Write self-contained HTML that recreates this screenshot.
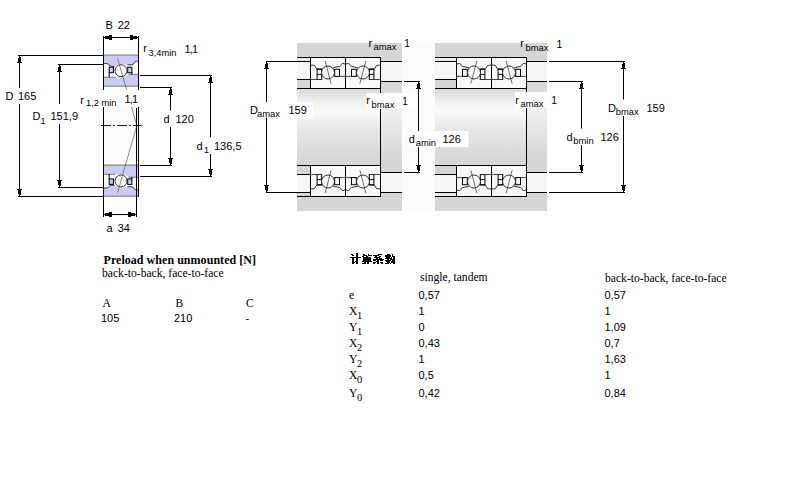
<!DOCTYPE html><html><head><meta charset="utf-8"><style>html,body{margin:0;padding:0;background:#fff;overflow:hidden}svg{display:block}</style></head><body>
<svg width="800" height="500" viewBox="0 0 800 500">
<defs>
<linearGradient id="shaft" x1="0" y1="0" x2="0" y2="1">
<stop offset="0" stop-color="#d9d9d9"/><stop offset="0.08" stop-color="#e4e4e4"/><stop offset="0.21" stop-color="#f5f5f5"/><stop offset="0.29" stop-color="#fbfbfb"/><stop offset="0.4" stop-color="#f1f1f1"/><stop offset="0.56" stop-color="#e6e6e6"/><stop offset="0.8" stop-color="#dcdcdc"/><stop offset="1" stop-color="#d6d6d6"/>
</linearGradient>
<linearGradient id="shaftR" x1="0" y1="0" x2="0" y2="1">
<stop offset="0" stop-color="#d7d7d7"/><stop offset="0.12" stop-color="#dcdcdc"/><stop offset="0.31" stop-color="#f0f0f0"/><stop offset="0.42" stop-color="#ececec"/><stop offset="0.76" stop-color="#dadada"/><stop offset="1" stop-color="#d4d4d4"/>
</linearGradient>
<g id="brg">
<rect x="0" y="0" width="35" height="31" fill="#f9f9f9"/>
<path d="M0,7.7 L3.5,7.7 C4.8,7.7 4.6,10.9 6.3,11.2 L11.5,11.5 M22.7,10.2 L29.2,8.9 C30.6,8.6 30.6,5.9 32,5.9 L35,6.6" fill="none" stroke="#1a1a1a" stroke-width="0.9"/>
<rect x="6.6" y="11.8" width="4.6" height="10.2" fill="none" stroke="#000" stroke-width="1"/>
<line x1="6.6" y1="16.9" x2="11.2" y2="16.9" stroke="#000" stroke-width="0.9"/>
<rect x="24.2" y="11.8" width="4.8" height="7.1" fill="none" stroke="#000" stroke-width="1"/>
<line x1="0" y1="22" x2="11.5" y2="22" stroke="#333" stroke-width="0.9"/>
<line x1="29" y1="18.9" x2="35" y2="18.9" stroke="#333" stroke-width="0.9"/>
<circle cx="17.5" cy="15" r="6.5" fill="#f9f9f9" stroke="#1a1a1a" stroke-width="0.9"/>
<line x1="14.7" y1="3.5" x2="20.6" y2="26.2" stroke="#333" stroke-width="0.7"/>
</g>
</defs>
<rect x="104" y="88" width="34" height="77" fill="#fbfbfb" />
<g transform="translate(103.5,54.6)">
<path d="M0,0 H35 V7.9 L33,6.3 C31.5,6.3 30.5,10.2 28.5,10.2 H24 L19,9.5 L16,9.5 L11,11.8 H8 C5.5,11.8 5.5,9 3.5,9 H0 Z" fill="#cacdf3"/>
<path d="M0,22.7 H12 L17,23 L22,22 L25,19.8 H35 V32.4 H0 Z" fill="#cacdf3"/>
<path d="M0,10 H3.5 L6,11 V22.7 H0 Z M29,10.5 L33,7.5 L35,7.5 V19.8 H29 Z" fill="#fbfbfb"/>
<line x1="0" y1="0.7" x2="35" y2="0.7" stroke="#9c9c9c" stroke-width="1.4"/>
<line x1="0" y1="31.7" x2="35" y2="31.7" stroke="#9c9c9c" stroke-width="1.4"/>
<path d="M0,9 H3.5 C5.5,9 5.5,11.8 8,11.8 H11 M24,10.2 H28.5 C30.5,10.2 31.5,6.3 33,6.3 L35,7.9" fill="none" stroke="#222" stroke-width="0.9"/>
<line x1="0" y1="22.7" x2="12" y2="22.7" stroke="#8a8a8a" stroke-width="1.2"/>
<line x1="25" y1="19.8" x2="35" y2="19.8" stroke="#8a8a8a" stroke-width="1.2"/>
<rect x="5.7" y="12.6" width="4.2" height="5.5" fill="#cacdf3" stroke="#000" stroke-width="1"/>
<line x1="5.7" y1="18" x2="5.7" y2="23" stroke="#000" stroke-width="1"/>
<rect x="24.2" y="12.6" width="4.2" height="5.5" fill="#cacdf3" stroke="#000" stroke-width="1"/>
<line x1="28.4" y1="18" x2="28.4" y2="20" stroke="#000" stroke-width="1"/>
<circle cx="17.5" cy="16.1" r="6" fill="#fbfbfb" stroke="#222" stroke-width="0.9"/>
</g>
<g transform="translate(103.5,197.0) scale(1,-1)">
<path d="M0,0 H35 V7.9 L33,6.3 C31.5,6.3 30.5,10.2 28.5,10.2 H24 L19,9.5 L16,9.5 L11,11.8 H8 C5.5,11.8 5.5,9 3.5,9 H0 Z" fill="#cacdf3"/>
<path d="M0,22.7 H12 L17,23 L22,22 L25,19.8 H35 V32.4 H0 Z" fill="#cacdf3"/>
<path d="M0,10 H3.5 L6,11 V22.7 H0 Z M29,10.5 L33,7.5 L35,7.5 V19.8 H29 Z" fill="#fbfbfb"/>
<line x1="0" y1="0.7" x2="35" y2="0.7" stroke="#9c9c9c" stroke-width="1.4"/>
<line x1="0" y1="31.7" x2="35" y2="31.7" stroke="#9c9c9c" stroke-width="1.4"/>
<path d="M0,9 H3.5 C5.5,9 5.5,11.8 8,11.8 H11 M24,10.2 H28.5 C30.5,10.2 31.5,6.3 33,6.3 L35,7.9" fill="none" stroke="#222" stroke-width="0.9"/>
<line x1="0" y1="22.7" x2="12" y2="22.7" stroke="#8a8a8a" stroke-width="1.2"/>
<line x1="25" y1="19.8" x2="35" y2="19.8" stroke="#8a8a8a" stroke-width="1.2"/>
<rect x="5.7" y="12.6" width="4.2" height="5.5" fill="#cacdf3" stroke="#000" stroke-width="1"/>
<line x1="5.7" y1="18" x2="5.7" y2="23" stroke="#000" stroke-width="1"/>
<rect x="24.2" y="12.6" width="4.2" height="5.5" fill="#cacdf3" stroke="#000" stroke-width="1"/>
<line x1="28.4" y1="18" x2="28.4" y2="20" stroke="#000" stroke-width="1"/>
<circle cx="17.5" cy="16.1" r="6" fill="#fbfbfb" stroke="#222" stroke-width="0.9"/>
</g>
<polyline points="117.6,58.4 136.8,125.5 117.6,192.6" fill="none" stroke="#444" stroke-width="0.6"/>
<rect x="103" y="36" width="1" height="181" fill="#000"/>
<rect x="138" y="36" width="1" height="161" fill="#000"/>
<rect x="136" y="108" width="1" height="109" fill="#000"/>
<line x1="101" y1="125.5" x2="141.5" y2="125.5" stroke="#000" stroke-width="0.9" stroke-dasharray="10,2,2,2"/>
<rect x="103" y="37" width="36" height="1" fill="#000"/>
<path d="M104,37v1h1v1h4v1h3v-5h-3v1h-4v1h-1z" fill="#000"/>
<path d="M138,37v1h-1v1h-4v1h-3v-5h3v1h4v1h1z" fill="#000"/>
<rect x="103" y="214" width="34" height="1" fill="#000"/>
<path d="M104,214v1h1v1h4v1h3v-5h-3v1h-4v1h-1z" fill="#000"/>
<path d="M136,214v1h-1v1h-4v1h-3v-5h3v1h4v1h1z" fill="#000"/>
<rect x="19" y="55" width="1" height="142" fill="#000"/>
<rect x="18" y="55" width="86" height="1" fill="#000"/>
<rect x="18" y="196" width="86" height="1" fill="#000"/>
<path d="M19,56h1v1h1v1h0v4h1v1h-5v-1h1v-4h1v-1h0z" fill="#000"/>
<path d="M19,196h1v-1h1v-1h0v-4h1v-1h-5v1h1v4h1v1h0z" fill="#000"/>
<rect x="59" y="64" width="1" height="124" fill="#000"/>
<rect x="58" y="64" width="46" height="1" fill="#000"/>
<rect x="58" y="187" width="46" height="1" fill="#000"/>
<path d="M59,65h1v1h1v1h0v4h1v1h-5v-1h1v-4h1v-1h0z" fill="#000"/>
<path d="M59,187h1v-1h1v-1h0v-4h1v-1h-5v1h1v4h1v1h0z" fill="#000"/>
<rect x="210" y="75" width="1" height="102" fill="#000"/>
<rect x="140" y="75" width="72" height="1" fill="#000"/>
<rect x="140" y="176" width="72" height="1" fill="#000"/>
<path d="M210,76h1v1h1v1h0v4h1v1h-5v-1h1v-4h1v-1h0z" fill="#000"/>
<path d="M210,176h1v-1h1v-1h0v-4h1v-1h-5v1h1v4h1v1h0z" fill="#000"/>
<rect x="170" y="87" width="1" height="79" fill="#000"/>
<rect x="140" y="87" width="32" height="1" fill="#000"/>
<rect x="140" y="165" width="32" height="1" fill="#000"/>
<path d="M170,88h1v1h1v1h0v4h1v1h-5v-1h1v-4h1v-1h0z" fill="#000"/>
<path d="M170,165h1v-1h1v-1h0v-4h1v-1h-5v1h1v4h1v1h0z" fill="#000"/>
<rect x="2" y="88" width="40" height="16" fill="#fff" />
<rect x="30" y="104" width="50" height="20" fill="#fff" />
<rect x="78" y="90" width="64" height="17" fill="#fff" />
<rect x="160" y="110.5" width="36" height="16.5" fill="#fff" />
<rect x="194" y="137.5" width="40" height="16.5" fill="#fff" />
<text x="105.5" y="29" font-family="Liberation Sans" font-size="11" font-weight="400" >B</text>
<text x="117.75" y="29" font-family="Liberation Sans" font-size="11" font-weight="400" >22</text>
<text x="5.5" y="100" font-family="Liberation Sans" font-size="11" font-weight="400" >D</text>
<text x="18" y="100" font-family="Liberation Sans" font-size="11" font-weight="400" >165</text>
<text x="32.5" y="120" font-family="Liberation Sans" font-size="11" font-weight="400" >D</text>
<text x="40.5" y="123.5" font-family="Liberation Sans" font-size="9" font-weight="400" >1</text>
<text x="50.5" y="120" font-family="Liberation Sans" font-size="11" font-weight="400" >151,9</text>
<text x="80.3" y="103.5" font-family="Liberation Sans" font-size="11" font-weight="400" >r</text>
<text x="86" y="106" font-family="Liberation Sans" font-size="9.3" font-weight="400" >1,2 min</text>
<text x="124.5" y="103" font-family="Liberation Sans" font-size="11" font-weight="400" letter-spacing="-0.8">1,1</text>
<text x="143.3" y="52.4" font-family="Liberation Sans" font-size="11" font-weight="400" >r</text>
<text x="148.5" y="55.5" font-family="Liberation Sans" font-size="9.3" font-weight="400" >3,4min</text>
<text x="184.5" y="52.5" font-family="Liberation Sans" font-size="11" font-weight="400" letter-spacing="-0.8">1,1</text>
<text x="163.5" y="123" font-family="Liberation Sans" font-size="11" font-weight="400" >d</text>
<text x="175.5" y="123" font-family="Liberation Sans" font-size="11" font-weight="400" >120</text>
<text x="196.5" y="149.5" font-family="Liberation Sans" font-size="11" font-weight="400" >d</text>
<text x="204" y="152.5" font-family="Liberation Sans" font-size="9" font-weight="400" >1</text>
<text x="214" y="149.5" font-family="Liberation Sans" font-size="11" font-weight="400" >136,5</text>
<text x="106.5" y="232" font-family="Liberation Sans" font-size="11" font-weight="400" >a</text>
<text x="117.75" y="232" font-family="Liberation Sans" font-size="11" font-weight="400" >34</text>
<rect x="402" y="43" width="33" height="168" fill="#fbfbfb" />
<rect x="297" y="43" width="105" height="14" fill="#d6d6d6" />
<rect x="297" y="58" width="13" height="3" fill="#ebebeb" />
<rect x="297" y="62" width="13" height="17" fill="#f6f6f6" />
<rect x="297" y="80" width="13" height="8" fill="#d6d6d6" />
<rect x="380" y="57" width="22" height="4" fill="#d6d6d6" />
<rect x="380" y="62" width="22" height="19" fill="#f6f6f6" />
<rect x="297" y="89" width="83" height="76" fill="url(#shaft)" />
<rect x="380" y="82" width="22" height="90" fill="url(#shaftR)" />
<rect x="297" y="166" width="13" height="8" fill="#d6d6d6" />
<rect x="297" y="175" width="13" height="17" fill="#f6f6f6" />
<rect x="297" y="193" width="13" height="3" fill="#d6d6d6" />
<rect x="380" y="173" width="22" height="19" fill="#f6f6f6" />
<rect x="380" y="193" width="22" height="4" fill="#d6d6d6" />
<rect x="297" y="197" width="105" height="14" fill="#d6d6d6" />
<use href="#brg" transform="translate(310.5,57.5)"/>
<use href="#brg" transform="translate(310.5,196.5) scale(1,-1)"/>
<use href="#brg" transform="translate(380.5,57.5) scale(-1,1)"/>
<use href="#brg" transform="translate(380.5,196.5) scale(-1,-1)"/>
<rect x="297" y="57" width="84" height="1" fill="#000"/>
<rect x="380" y="61" width="22" height="1" fill="#000"/>
<rect x="266" y="61" width="44" height="1" fill="#000"/>
<rect x="297" y="79" width="13" height="1" fill="#000"/>
<rect x="380" y="81" width="22" height="1" fill="#000"/>
<rect x="297" y="88" width="84" height="1" fill="#000"/>
<rect x="297" y="165" width="84" height="1" fill="#000"/>
<rect x="297" y="174" width="13" height="1" fill="#000"/>
<rect x="380" y="172" width="22" height="1" fill="#000"/>
<rect x="266" y="192" width="44" height="1" fill="#000"/>
<rect x="380" y="192" width="22" height="1" fill="#000"/>
<rect x="297" y="196" width="84" height="1" fill="#000"/>
<rect x="310" y="57" width="1" height="32" fill="#000"/>
<rect x="345" y="57" width="1" height="32" fill="#000"/>
<rect x="380" y="57" width="1" height="140" fill="#000"/>
<rect x="310" y="165" width="1" height="32" fill="#000"/>
<rect x="345" y="165" width="1" height="32" fill="#000"/>
<rect x="404" y="81" width="16" height="1" fill="#000"/>
<rect x="404" y="172" width="16" height="1" fill="#000"/>
<rect x="435" y="43" width="112" height="14" fill="#d6d6d6" />
<rect x="435" y="58" width="21" height="3" fill="#ebebeb" />
<rect x="435" y="62" width="21" height="17" fill="#f6f6f6" />
<rect x="435" y="80" width="21" height="8" fill="#d6d6d6" />
<rect x="526" y="57" width="21" height="4" fill="#d6d6d6" />
<rect x="526" y="62" width="21" height="19" fill="#f6f6f6" />
<rect x="435" y="89" width="91" height="76" fill="url(#shaft)" />
<rect x="526" y="82" width="21" height="90" fill="url(#shaftR)" />
<rect x="435" y="166" width="21" height="8" fill="#d6d6d6" />
<rect x="435" y="175" width="21" height="17" fill="#f6f6f6" />
<rect x="435" y="193" width="21" height="3" fill="#ebebeb" />
<rect x="526" y="173" width="21" height="19" fill="#f6f6f6" />
<rect x="526" y="193" width="21" height="4" fill="#d6d6d6" />
<rect x="435" y="197" width="112" height="14" fill="#d6d6d6" />
<use href="#brg" transform="translate(491.5,57.5) scale(-1,1)"/>
<use href="#brg" transform="translate(491.5,196.5) scale(-1,-1)"/>
<use href="#brg" transform="translate(491.5,57.5)"/>
<use href="#brg" transform="translate(491.5,196.5) scale(1,-1)"/>
<rect x="435" y="57" width="92" height="1" fill="#000"/>
<rect x="526" y="61" width="21" height="1" fill="#000"/>
<rect x="435" y="61" width="21" height="1" fill="#000"/>
<rect x="435" y="79" width="21" height="1" fill="#000"/>
<rect x="526" y="81" width="21" height="1" fill="#000"/>
<rect x="435" y="88" width="92" height="1" fill="#000"/>
<rect x="435" y="165" width="92" height="1" fill="#000"/>
<rect x="435" y="174" width="21" height="1" fill="#000"/>
<rect x="526" y="172" width="21" height="1" fill="#000"/>
<rect x="435" y="192" width="21" height="1" fill="#000"/>
<rect x="526" y="192" width="21" height="1" fill="#000"/>
<rect x="435" y="196" width="92" height="1" fill="#000"/>
<rect x="456" y="57" width="1" height="32" fill="#000"/>
<rect x="491" y="57" width="1" height="32" fill="#000"/>
<rect x="526" y="57" width="1" height="140" fill="#000"/>
<rect x="456" y="165" width="1" height="32" fill="#000"/>
<rect x="491" y="165" width="1" height="32" fill="#000"/>
<rect x="549" y="61" width="76" height="1" fill="#000"/>
<rect x="549" y="192" width="76" height="1" fill="#000"/>
<rect x="549" y="81" width="34" height="1" fill="#000"/>
<rect x="549" y="172" width="34" height="1" fill="#000"/>
<rect x="266" y="61" width="1" height="132" fill="#000"/>
<path d="M266,62h1v1h1v1h0v4h1v1h-5v-1h1v-4h1v-1h0z" fill="#000"/>
<path d="M266,192h1v-1h1v-1h0v-4h1v-1h-5v1h1v4h1v1h0z" fill="#000"/>
<rect x="418" y="81" width="1" height="92" fill="#000"/>
<path d="M418,82h1v1h1v1h0v4h1v1h-5v-1h1v-4h1v-1h0z" fill="#000"/>
<path d="M418,172h1v-1h1v-1h0v-4h1v-1h-5v1h1v4h1v1h0z" fill="#000"/>
<rect x="623" y="61" width="1" height="132" fill="#000"/>
<path d="M623,62h1v1h1v1h0v4h1v1h-5v-1h1v-4h1v-1h0z" fill="#000"/>
<path d="M623,192h1v-1h1v-1h0v-4h1v-1h-5v1h1v4h1v1h0z" fill="#000"/>
<rect x="581" y="81" width="1" height="92" fill="#000"/>
<path d="M581,82h1v1h1v1h0v4h1v1h-5v-1h1v-4h1v-1h0z" fill="#000"/>
<path d="M581,172h1v-1h1v-1h0v-4h1v-1h-5v1h1v4h1v1h0z" fill="#000"/>
<rect x="248" y="102" width="65" height="15.5" fill="#fff" />
<rect x="366.5" y="93" width="50" height="16" fill="#fff" />
<rect x="408.5" y="131" width="60" height="16" fill="#fff" />
<rect x="515" y="92" width="45" height="16" fill="#fff" />
<rect x="600" y="99.5" width="70" height="16.5" fill="#fff" />
<rect x="560" y="128.5" width="62" height="16.5" fill="#fff" />
<text x="250" y="113.75" font-family="Liberation Sans" font-size="11" font-weight="400" >D</text>
<text x="257" y="116.5" font-family="Liberation Sans" font-size="9.4" font-weight="400" >amax</text>
<text x="288.5" y="113.75" font-family="Liberation Sans" font-size="11" font-weight="400" >159</text>
<text x="368.5" y="46.5" font-family="Liberation Sans" font-size="11" font-weight="400" >r</text>
<text x="373.5" y="49.75" font-family="Liberation Sans" font-size="9.4" font-weight="400" >amax</text>
<text x="404.3" y="46.6" font-family="Liberation Sans" font-size="10" font-weight="400" >1</text>
<text x="366.3" y="104.2" font-family="Liberation Sans" font-size="11" font-weight="400" >r</text>
<text x="371.5" y="107.6" font-family="Liberation Sans" font-size="9.4" font-weight="400" >bmax</text>
<text x="402.3" y="104.6" font-family="Liberation Sans" font-size="10" font-weight="400" >1</text>
<text x="408.7" y="143.1" font-family="Liberation Sans" font-size="11" font-weight="400" >d</text>
<text x="415.7" y="146.4" font-family="Liberation Sans" font-size="9.4" font-weight="400" >amin</text>
<text x="442.5" y="143.2" font-family="Liberation Sans" font-size="11" font-weight="400" >126</text>
<text x="520.3" y="47.4" font-family="Liberation Sans" font-size="11" font-weight="400" >r</text>
<text x="525.5" y="50.75" font-family="Liberation Sans" font-size="9.4" font-weight="400" >bmax</text>
<text x="556.5" y="47.75" font-family="Liberation Sans" font-size="10.5" font-weight="400" >1</text>
<text x="515.3" y="103.75" font-family="Liberation Sans" font-size="11" font-weight="400" >r</text>
<text x="520.5" y="106.9" font-family="Liberation Sans" font-size="9.4" font-weight="400" >amax</text>
<text x="551.3" y="103.75" font-family="Liberation Sans" font-size="10.5" font-weight="400" >1</text>
<text x="608" y="111.9" font-family="Liberation Sans" font-size="11" font-weight="400" >D</text>
<text x="615.7" y="114.8" font-family="Liberation Sans" font-size="9.4" font-weight="400" >bmax</text>
<text x="646.5" y="111.9" font-family="Liberation Sans" font-size="11" font-weight="400" >159</text>
<text x="566.5" y="140.9" font-family="Liberation Sans" font-size="11" font-weight="400" >d</text>
<text x="573.3" y="144.2" font-family="Liberation Sans" font-size="9.4" font-weight="400" >bmin</text>
<text x="600.5" y="140.9" font-family="Liberation Sans" font-size="11" font-weight="400" >126</text>
<text x="103.5" y="263.6" font-family="Liberation Serif" font-size="12" font-weight="700" textLength="152.5" lengthAdjust="spacing">Preload when unmounted [N]</text>
<text x="102" y="277.4" font-family="Liberation Serif" font-size="11.6" font-weight="400" >back-to-back, face-to-face</text>
<text x="102.5" y="307" font-family="Liberation Serif" font-size="11.6" font-weight="400" >A</text>
<text x="175.5" y="307" font-family="Liberation Serif" font-size="11.6" font-weight="400" >B</text>
<text x="246" y="307" font-family="Liberation Serif" font-size="11.6" font-weight="400" >C</text>
<text x="101" y="321.5" font-family="Liberation Sans" font-size="11" font-weight="400" >105</text>
<text x="174" y="321.5" font-family="Liberation Sans" font-size="11" font-weight="400" >210</text>
<text x="245.5" y="321.5" font-family="Liberation Sans" font-size="11" font-weight="400" >-</text>
<text x="420" y="281.2" font-family="Liberation Serif" font-size="11.6" font-weight="400" >single, tandem</text>
<text x="605" y="281.5" font-family="Liberation Serif" font-size="11.6" font-weight="400" >back-to-back, face-to-face</text>
<text x="349" y="299" font-family="Liberation Serif" font-size="11.6" font-weight="400" >e</text>
<text x="418.5" y="299" font-family="Liberation Sans" font-size="11" font-weight="400" >0,57</text>
<text x="604.5" y="299" font-family="Liberation Sans" font-size="11" font-weight="400" >0,57</text>
<text x="349" y="314.75" font-family="Liberation Serif" font-size="11.6" font-weight="400" >X</text>
<text x="357" y="318.95" font-family="Liberation Serif" font-size="10.5" font-weight="400" >1</text>
<text x="418.5" y="314.75" font-family="Liberation Sans" font-size="11" font-weight="400" >1</text>
<text x="604.5" y="314.75" font-family="Liberation Sans" font-size="11" font-weight="400" >1</text>
<text x="349" y="330.75" font-family="Liberation Serif" font-size="11.6" font-weight="400" >Y</text>
<text x="357" y="334.95" font-family="Liberation Serif" font-size="10.5" font-weight="400" >1</text>
<text x="418.5" y="330.75" font-family="Liberation Sans" font-size="11" font-weight="400" >0</text>
<text x="604.5" y="330.75" font-family="Liberation Sans" font-size="11" font-weight="400" >1,09</text>
<text x="349" y="346.5" font-family="Liberation Serif" font-size="11.6" font-weight="400" >X</text>
<text x="357" y="350.7" font-family="Liberation Serif" font-size="10.5" font-weight="400" >2</text>
<text x="418.5" y="346.5" font-family="Liberation Sans" font-size="11" font-weight="400" >0,43</text>
<text x="604.5" y="346.5" font-family="Liberation Sans" font-size="11" font-weight="400" >0,7</text>
<text x="349" y="362.75" font-family="Liberation Serif" font-size="11.6" font-weight="400" >Y</text>
<text x="357" y="366.95" font-family="Liberation Serif" font-size="10.5" font-weight="400" >2</text>
<text x="418.5" y="362.75" font-family="Liberation Sans" font-size="11" font-weight="400" >1</text>
<text x="604.5" y="362.75" font-family="Liberation Sans" font-size="11" font-weight="400" >1,63</text>
<text x="349" y="378.75" font-family="Liberation Serif" font-size="11.6" font-weight="400" >X</text>
<text x="357" y="382.95" font-family="Liberation Serif" font-size="10.5" font-weight="400" >0</text>
<text x="418.5" y="378.75" font-family="Liberation Sans" font-size="11" font-weight="400" >0,5</text>
<text x="604.5" y="378.75" font-family="Liberation Sans" font-size="11" font-weight="400" >1</text>
<text x="349" y="396.9" font-family="Liberation Serif" font-size="11.6" font-weight="400" >Y</text>
<text x="357" y="401.09999999999997" font-family="Liberation Serif" font-size="10.5" font-weight="400" >0</text>
<text x="418.5" y="396.9" font-family="Liberation Sans" font-size="11" font-weight="400" >0,42</text>
<text x="604.5" y="396.9" font-family="Liberation Sans" font-size="11" font-weight="400" >0,84</text>
<g fill="#000">
<rect x="356" y="253" width="2" height="1"/>
<rect x="351" y="254" width="2" height="1"/>
<rect x="356" y="254" width="2" height="1"/>
<rect x="363" y="254" width="2" height="1"/>
<rect x="368" y="254" width="1" height="1"/>
<rect x="378" y="254" width="4" height="1"/>
<rect x="387" y="254" width="3" height="1"/>
<rect x="392" y="254" width="1" height="1"/>
<rect x="352" y="255" width="2" height="1"/>
<rect x="356" y="255" width="2" height="1"/>
<rect x="363" y="255" width="4" height="1"/>
<rect x="368" y="255" width="4" height="1"/>
<rect x="373" y="255" width="6" height="1"/>
<rect x="385" y="255" width="6" height="1"/>
<rect x="392" y="255" width="1" height="1"/>
<rect x="356" y="256" width="2" height="1"/>
<rect x="362" y="256" width="2" height="1"/>
<rect x="366" y="256" width="2" height="1"/>
<rect x="375" y="256" width="2" height="1"/>
<rect x="379" y="256" width="2" height="1"/>
<rect x="385" y="256" width="6" height="1"/>
<rect x="392" y="256" width="3" height="1"/>
<rect x="350" y="257" width="11" height="1"/>
<rect x="363" y="257" width="8" height="1"/>
<rect x="374" y="257" width="4" height="1"/>
<rect x="378" y="257" width="2" height="1"/>
<rect x="386" y="257" width="4" height="1"/>
<rect x="391" y="257" width="1" height="1"/>
<rect x="393" y="257" width="2" height="1"/>
<rect x="352" y="258" width="2" height="1"/>
<rect x="356" y="258" width="2" height="1"/>
<rect x="363" y="258" width="8" height="1"/>
<rect x="376" y="258" width="2" height="1"/>
<rect x="379" y="258" width="3" height="1"/>
<rect x="385" y="258" width="7" height="1"/>
<rect x="393" y="258" width="2" height="1"/>
<rect x="352" y="259" width="2" height="1"/>
<rect x="356" y="259" width="2" height="1"/>
<rect x="363" y="259" width="8" height="1"/>
<rect x="373" y="259" width="11" height="1"/>
<rect x="387" y="259" width="2" height="1"/>
<rect x="390" y="259" width="5" height="1"/>
<rect x="352" y="260" width="2" height="1"/>
<rect x="356" y="260" width="2" height="1"/>
<rect x="363" y="260" width="8" height="1"/>
<rect x="373" y="260" width="3" height="1"/>
<rect x="377" y="260" width="2" height="1"/>
<rect x="380" y="260" width="3" height="1"/>
<rect x="385" y="260" width="6" height="1"/>
<rect x="392" y="260" width="3" height="1"/>
<rect x="352" y="261" width="2" height="1"/>
<rect x="355" y="261" width="1" height="1"/>
<rect x="356" y="261" width="2" height="1"/>
<rect x="362" y="261" width="10" height="1"/>
<rect x="376" y="261" width="3" height="1"/>
<rect x="386" y="261" width="4" height="1"/>
<rect x="391" y="261" width="4" height="1"/>
<rect x="352" y="262" width="3" height="1"/>
<rect x="356" y="262" width="2" height="1"/>
<rect x="364" y="262" width="2" height="1"/>
<rect x="367" y="262" width="2" height="1"/>
<rect x="373" y="262" width="3" height="1"/>
<rect x="377" y="262" width="2" height="1"/>
<rect x="380" y="262" width="3" height="1"/>
<rect x="387" y="262" width="3" height="1"/>
<rect x="391" y="262" width="4" height="1"/>
<rect x="352" y="263" width="2" height="1"/>
<rect x="356" y="263" width="2" height="1"/>
<rect x="362" y="263" width="4" height="1"/>
<rect x="367" y="263" width="2" height="1"/>
<rect x="373" y="263" width="2" height="1"/>
<rect x="377" y="263" width="2" height="1"/>
<rect x="381" y="263" width="2" height="1"/>
<rect x="385" y="263" width="4" height="1"/>
<rect x="390" y="263" width="1" height="1"/>
<rect x="393" y="263" width="2" height="1"/>
</g>
</svg></body></html>
